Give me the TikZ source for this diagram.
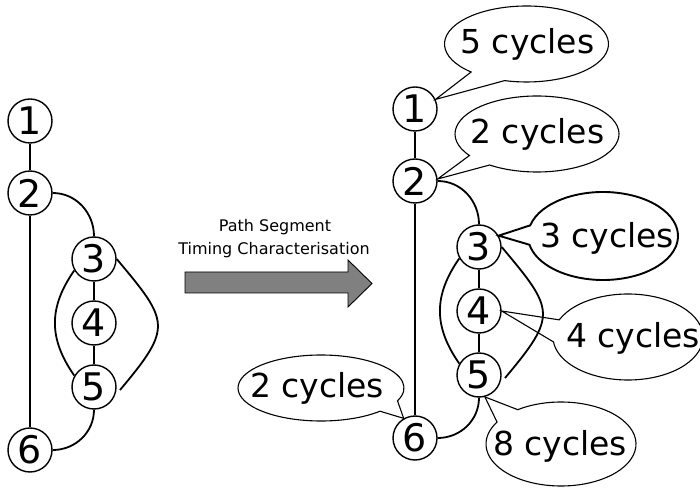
\documentclass[tikz,border=0pt]{standalone}
\usepackage{fontspec}
\setmainfont{DejaVu Sans}
\usetikzlibrary{calc}

\tikzset{
  vtx/.style={circle, draw, line width=1.4pt, minimum size=44pt, inner sep=0pt,
              font=\fontsize{38}{38}\selectfont},
  edge/.style={line width=1.8pt},
  lbl/.style={inner sep=0pt, font=\fontsize{33}{33}\selectfont},
  bubble/.style={line width=1.1pt, line join=miter},
  heavybubble/.style={line width=1.9pt, line join=miter},
  caption/.style={inner sep=0pt, anchor=base, font=\fontsize{16}{16}\selectfont},
}

% speech bubble: #1 style, #2 text node, #3 offset of the ellipse centre,
% #4/#5 radii, #6/#7 arc angles, #8 node the pointer reaches
\newcommand\bubbleat[8]{%
  \draw[#1] (#8) -- ($(#2)+(#3)+(#6:#4 and #5)$)
    arc[start angle=#6, end angle=#7, x radius=#4, y radius=#5] -- cycle;}

\begin{document}
\begin{tikzpicture}[x=1pt, y=1pt]
\useasboundingbox (0,0) rectangle (700,487);

% ---- control-flow graph before characterisation
\node[vtx] (L1) at (30,366) {1};
\node[vtx] (L2) at (30,294) {2};
\node[vtx] (L3) at (94,228) {3};
\node[vtx] (L4) at (94,164) {4};
\node[vtx] (L5) at (94,100) {5};
\node[vtx] (L6) at (30,37) {6};
\coordinate (L5r) at ($(L5)+(26,-3)$);

\draw[edge] (L1) -- (L2);
\draw[edge] (L2.east) to[out=0,in=90] (L3.north);
\draw[edge] (L2) -- (L6);
\draw[edge] (L3) -- (L4);
\draw[edge] (L4) -- (L5);
\draw[edge] (L3.210) to[out=235,in=125,looseness=1.1] (L5.150);
\draw[edge] (L3.east) to[out=-50,in=50,looseness=1.6] (L5r);
\draw[edge] (L5.south) to[out=-90,in=0] (L6.east);

% ---- transformation arrow
\node[caption] (cap1) at (275,255) {Path Segment};
\node[caption] (cap2) at (274,232) {Timing Characterisation};
\draw[line width=0.9pt, fill=black!50]
  (185,215) -- (348,215) -- (348,227) -- (372,203.5) -- (348,180)
  -- (348,194) -- (185,194) -- cycle;

% ---- control-flow graph with segment timings
\node[vtx] (R1) at (415,378) {1};
\node[vtx] (R2) at (415,306) {2};
\node[vtx] (R3) at (479,240) {3};
\node[vtx] (R4) at (479,176) {4};
\node[vtx] (R5) at (479,112) {5};
\node[vtx] (R6) at (415,49) {6};
\coordinate (R5r) at ($(R5)+(26,-3)$);

\draw[edge] (R1) -- (R2);
\draw[edge] (R2.east) to[out=0,in=90] (R3.north);
\draw[edge] (R2) -- (R6);
\draw[edge] (R3) -- (R4);
\draw[edge] (R4) -- (R5);
\draw[edge] (R3.210) to[out=235,in=125,looseness=1.1] (R5.150);
\draw[edge] (R3.east) to[out=-50,in=50,looseness=1.6] (R5r);
\draw[edge] (R5.south) to[out=-90,in=0] (R6.east);

% ---- timing bubbles
\node[lbl] (T5)  at (527.5,442.4) {5 cycles};
\node[lbl] (T2a) at (537.5,352.4) {2 cycles};
\node[lbl] (T3)  at (607,248.4)   {3 cycles};
\node[lbl] (T4)  at (633,148.4)   {4 cycles};
\node[lbl] (T8)  at (560,40.4)    {8 cycles};
\node[lbl] (T2b) at (317,98.4)    {2 cycles};

\bubbleat{bubble}{T5}{-1pt,0.6pt}{82pt}{38pt}{-132.5}{-465.5}{R1.25}
\bubbleat{bubble}{T2a}{-0.5pt,0.6pt}{82pt}{38pt}{-145.5}{-485.3}{R2.5}
\bubbleat{heavybubble}{T3}{-4pt,2.6pt}{75pt}{44pt}{-194}{-528.5}{R3.30}
\bubbleat{bubble}{T4}{-5pt,1.6pt}{75pt}{43pt}{-203.5}{-533.4}{R4.east}
\bubbleat{bubble}{T8}{1pt,2.6pt}{75pt}{42pt}{-234.8}{-571.5}{R5.-75}
\bubbleat{bubble}{T2b}{4pt,0.6pt}{83pt}{33pt}{-44.7}{-382.8}{R6.120}
\end{tikzpicture}
\end{document}
